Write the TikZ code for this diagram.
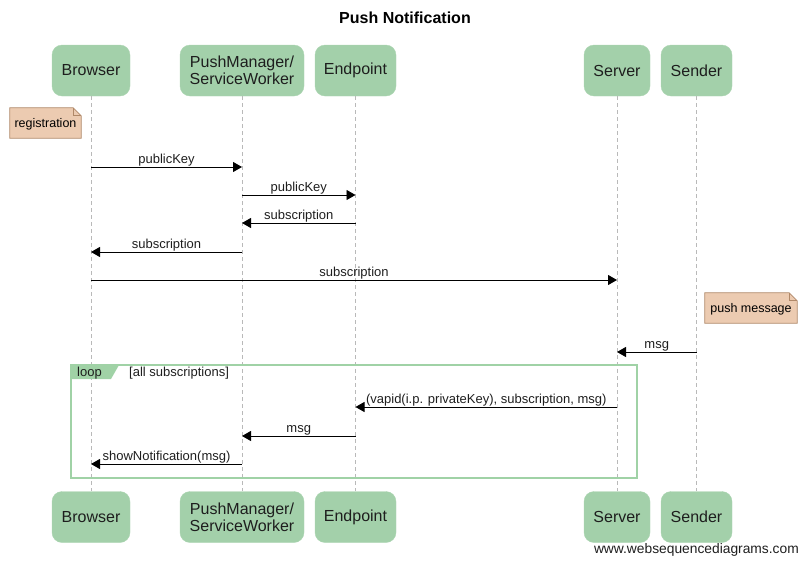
\documentclass[tikz,border=0pt]{standalone}
\usepackage{fontspec}
\setmainfont{Liberation Sans}
\usetikzlibrary{arrows.meta}
\definecolor{partfill}{RGB}{163,208,170}
\definecolor{notefill}{RGB}{236,203,177}
\definecolor{notedraw}{RGB}{176,136,104}
\definecolor{loopdraw}{RGB}{160,210,166}
\definecolor{lifegray}{RGB}{185,185,185}
\definecolor{txt}{RGB}{30,30,30}
\tikzset{
  part/.style={fill=partfill, draw=partfill!90!white, rounded corners=10pt, minimum height=51pt, inner sep=0pt, align=center, text=txt, font=\fontsize{16}{17}\selectfont},
  lifeline/.style={draw=lifegray, line width=0.8pt, dash pattern=on 4pt off 3pt},
  msgarrow/.style={draw=black, line width=0.9pt, -{Triangle[length=9pt,width=10pt]}},
  msglabel/.style={anchor=south, inner sep=0pt, yshift=0.5pt, font=\fontsize{13}{14}\selectfont, text=txt},
  notetext/.style={inner sep=0pt, font=\fontsize{12.5}{13}\selectfont, text=black},
  notebox/.style={fill=notefill, draw=notedraw, line width=0.8pt},
  loopbox/.style={draw=loopdraw, line width=1.5pt},
  looptext/.style={anchor=west, inner sep=0pt, font=\fontsize{13}{14}\selectfont, text=txt},
}
\begin{document}
\begin{tikzpicture}[x=1pt,y=-1pt]
\useasboundingbox (0,0) rectangle (807,566);
\node[font=\bfseries\fontsize{16}{18}\selectfont] (title) at (405,18) {Push Notification};

% participants top
\node[part, minimum width=78pt] (bT) at (91,70.5) {Browser};
\node[part, minimum width=124pt] (pT) at (242,70.5) {PushManager/\\ServiceWorker};
\node[part, minimum width=81pt] (eT) at (355.5,70.5) {Endpoint};
\node[part, minimum width=66pt] (sT) at (617,70.5) {Server};
\node[part, minimum width=71pt] (dT) at (696.5,70.5) {Sender};
% participants bottom
\node[part, minimum width=78pt] (bB) at (91,517) {Browser};
\node[part, minimum width=124pt] (pB) at (242,517) {PushManager/\\ServiceWorker};
\node[part, minimum width=81pt] (eB) at (355.5,517) {Endpoint};
\node[part, minimum width=66pt] (sB) at (617,517) {Server};
\node[part, minimum width=71pt] (dB) at (696.5,517) {Sender};

% lifelines
\foreach \p in {b,p,e,s,d} {\draw[lifeline] (\p T.south) -- (\p B.north);}

% note registration
\node[notetext, minimum width=71pt, minimum height=30pt] (reg) at (45.5,123) {};
\draw[notebox] (reg.south west) -- (reg.north west) -- ([xshift=-8pt]reg.north east) -- ([yshift=-8pt]reg.north east) -- (reg.south east) -- cycle;
\draw[notedraw, line width=0.8pt] ([xshift=-8pt]reg.north east) -- ([xshift=-8pt,yshift=-8pt]reg.north east) -- ([yshift=-8pt]reg.north east);
\node[notetext] (regtext) at ([yshift=-1pt]reg.center) {registration};

% messages
\draw[msgarrow] (bT.south |- 0,167) -- node[msglabel]{publicKey} (pT.south |- 0,167);
\draw[msgarrow] (pT.south |- 0,195) -- node[msglabel]{publicKey} (eT.south |- 0,195);
\draw[msgarrow] (eT.south |- 0,223) -- node[msglabel]{subscription} (pT.south |- 0,223);
\draw[msgarrow] (pT.south |- 0,252) -- node[msglabel]{subscription} (bT.south |- 0,252);
\draw[msgarrow] (bT.south |- 0,280) -- node[msglabel]{subscription} (sT.south |- 0,280);

% note push message
\node[notetext, minimum width=92pt, minimum height=30pt] (pm) at (751,308) {};
\draw[notebox] (pm.south west) -- (pm.north west) -- ([xshift=-8pt]pm.north east) -- ([yshift=-8pt]pm.north east) -- (pm.south east) -- cycle;
\draw[notedraw, line width=0.8pt] ([xshift=-8pt]pm.north east) -- ([xshift=-8pt,yshift=-8pt]pm.north east) -- ([yshift=-8pt]pm.north east);
\node[notetext] (pmtext) at ([yshift=-1pt]pm.center) {push message};

\draw[msgarrow] (dT.south |- 0,352) -- node[msglabel]{msg} (sT.south |- 0,352);

% loop frame
\coordinate (loopNW) at (71,365);
\coordinate (loopSE) at (637,478);
\fill[loopdraw] (loopNW) -- (119,365) -- (111,379) -- (71,379) -- cycle;
\draw[loopbox] (loopNW) rectangle (loopSE);
\node[looptext] (looplbl) at (77,373.5) {loop};
\node[looptext] (loopcond) at (129,373.5) {[all subscriptions]};

\draw[msgarrow] (sT.south |- 0,407) -- node[msglabel]{(vapid(i.p. privateKey), subscription, msg)} (eT.south |- 0,407);
\draw[msgarrow] (eT.south |- 0,436) -- node[msglabel]{msg} (pT.south |- 0,436);
\draw[msgarrow] (pT.south |- 0,464) -- node[msglabel]{showNotification(msg)} (bT.south |- 0,464);

% footer
\node[anchor=east, inner sep=0pt, font=\fontsize{13.8}{15}\selectfont, text=txt] (footer) at (799,550) {www.websequencediagrams.com};
\end{tikzpicture}
\end{document}
